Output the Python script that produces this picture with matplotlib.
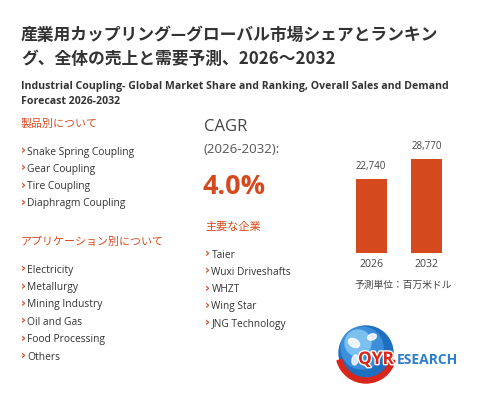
import matplotlib.pyplot as plt
import matplotlib.patheffects as pe
from matplotlib.patches import Circle, Wedge, Ellipse

# data
years = ["2026", "2032"]
sales = [22740, 28770]
bar_labels = ["22,740", "28,770"]
cagr = "4.0%"

title_jp = ["産業用カップリング—グローバル市場シェアとランキン",
            "グ、全体の売上と需要予測、2026～2032"]
title_en = ["Industrial Coupling- Global Market Share and Ranking, Overall Sales and Demand",
            "Forecast 2026-2032"]
product_types = ["Snake Spring Coupling", "Gear Coupling", "Tire Coupling", "Diaphragm Coupling"]
applications = ["Electricity", "Metallurgy", "Mining Industry", "Oil and Gas",
                "Food Processing", "Others"]
companies = ["Taier", "Wuxi Driveshafts", "WHZT", "Wing Star", "JNG Technology"]

RED = "#D5491E"
DARK = "#333333"
W, H = 485, 400
JP = ["Noto Sans CJK JP", "DejaVu Sans"]
EN = ["Open Sans", "DejaVu Sans"]

fig = plt.figure(figsize=(W / 100, H / 100), dpi=100)


def txt(x, y, s, **kw):
    kw.setdefault("va", "center")
    return fig.text(x / W, 1 - y / H, s, **kw)


# titles
txt(21, 35, title_jp[0], fontsize=12.1, family=JP, weight="bold", color=DARK)
txt(21, 59, title_jp[1], fontsize=12.1, family=JP, weight="bold", color=DARK)
txt(21, 87, title_en[0], fontsize=7.55, family=EN, weight="bold", color=DARK)
txt(21, 101, title_en[1], fontsize=7.55, family=EN, weight="bold", color=DARK)


def bullets(x, y0, items, step, size):
    for i, s in enumerate(items):
        y = y0 + i * step
        txt(x, y - 1.5, "›", fontsize=8.5, family=["DejaVu Sans"], weight="bold", color=RED)
        txt(x + 6.5, y, s, fontsize=size, family=EN, color=DARK)


# left column
txt(21, 124, "製品別について", fontsize=7.9, family=JP, color=RED)
bullets(21, 152, product_types, 17.2, 7.4)
txt(21, 242, "アプリケーション別について", fontsize=7.9, family=JP, color=RED)
bullets(21, 270, applications, 17.4, 7.4)

# middle column
txt(204, 127, "CAGR", fontsize=12, family=EN, color="#444444")
txt(204, 149, "(2026-2032):", fontsize=9.6, family=EN, color="#555555")
txt(203, 187, cagr, fontsize=19.5, family=EN, weight="bold", color=RED)
txt(205, 227, "主要な企業", fontsize=8, family=JP, color=RED)
bullets(205, 255, companies, 17.3, 7.3)

# bar chart
ax = fig.add_axes([343.5 / W, 1 - 253 / H, 111 / W, 110 / H])
ax.bar(range(len(years)), sales, width=0.56, color=RED)
ax.set_xlim(-0.5, 1.5)
ax.set_ylim(0, 22740 * 110 / 74)
for i, (v, lab) in enumerate(zip(sales, bar_labels)):
    ax.annotate(lab, (i, v), xytext=(0, 5), textcoords="offset points",
                ha="center", va="bottom", fontsize=7, family=EN, color="#444444")
ax.set_xticks(range(len(years)))
ax.set_xticklabels(years, fontsize=7.6, family=EN, color="#444444")
ax.tick_params(axis="x", length=0, pad=4)
ax.set_yticks([])
for sp in ax.spines.values():
    sp.set_visible(False)
txt(403, 285, "予測単位：百万米ドル", fontsize=7, family=JP, color="#444444", ha="center")

# logo
lax = fig.add_axes([0, 0, 1, 1], zorder=-1)
lax.set_xlim(0, W)
lax.set_ylim(H, 0)
lax.axis("off")
lax.add_patch(Circle((366, 353), 27, color="#1F6FC0"))
lax.add_patch(Circle((362, 348), 21, color="#3C8FDA"))
lax.add_patch(Circle((358, 343), 13, color="#7CC0F0"))
lax.add_patch(Ellipse((354, 343), 12, 8, angle=30, color="white", alpha=0.85))
lax.add_patch(Ellipse((372, 337), 9, 6, angle=-20, color="white", alpha=0.85))
lax.add_patch(Ellipse((355, 360), 6, 10, angle=10, color="white", alpha=0.8))
lax.add_patch(Wedge((366, 353), 30, 15, 165, width=5, color="#D8261B"))
shadow = [pe.withStroke(linewidth=2, foreground="white")]
txt(358, 359, "QYR", fontsize=12.5, family=EN, weight="bold", color="#D8261B",
    path_effects=shadow)
txt(397, 360, "ESEARCH", fontsize=10, family=EN, weight="bold", color="#2C7FCB")

fig.savefig("out.png", dpi=100)
